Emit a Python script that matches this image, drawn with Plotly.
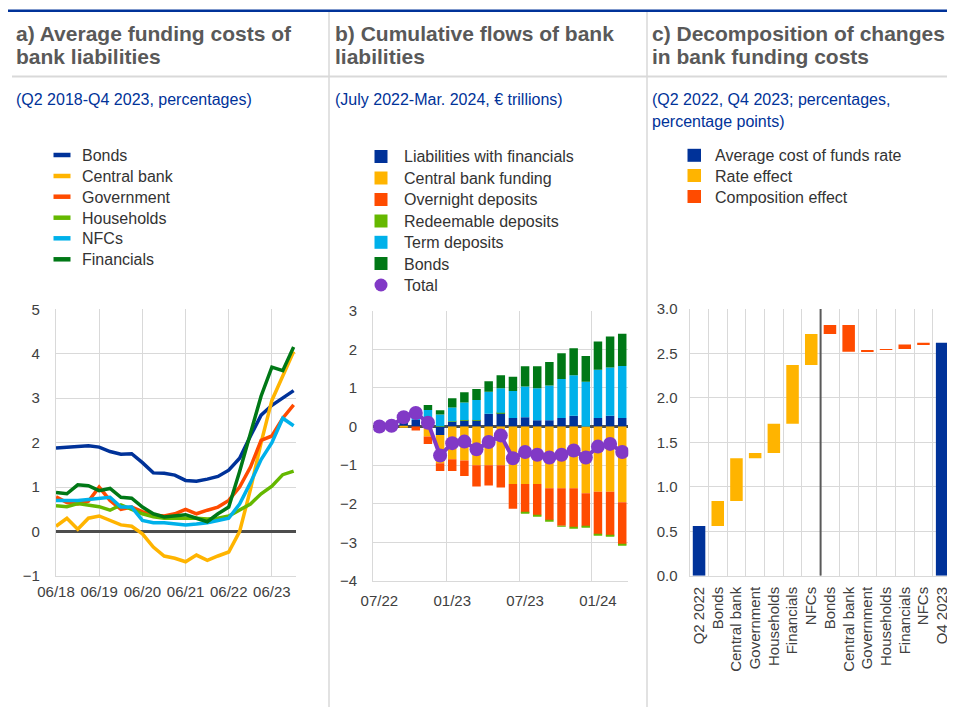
import numpy as np
import pandas as pd
import plotly.graph_objects as go

# ---------------- Panel a: average funding costs (quarterly, Q2 2018 - Q4 2023)
quarters = pd.period_range("2018Q2", "2023Q4", freq="Q").to_timestamp(how="end").normalize()
cost_bonds = [1.88, 1.90, 1.93, 1.93, 1.90, 1.80, 1.74, 1.75, 1.55, 1.32, 1.31, 1.27,
              1.15, 1.13, 1.18, 1.24, 1.38, 1.65, 2.15, 2.62, 2.84, 3.00, 3.17]
cost_central = [0.12, 0.30, 0.05, 0.30, 0.35, 0.25, 0.15, 0.12, -0.05, -0.35, -0.55, -0.60,
                -0.68, -0.53, -0.65, -0.55, -0.46, 0.00, 0.95, 2.00, 2.95, 3.50, 4.05]
cost_government = [0.78, 0.65, 0.62, 0.68, 1.00, 0.70, 0.50, 0.55, 0.45, 0.37, 0.35, 0.40,
                   0.50, 0.40, 0.48, 0.55, 0.70, 1.00, 1.45, 2.05, 2.15, 2.55, 2.85]
cost_households = [0.58, 0.56, 0.63, 0.60, 0.56, 0.48, 0.60, 0.50, 0.40, 0.33, 0.30, 0.30,
                   0.30, 0.30, 0.28, 0.30, 0.35, 0.48, 0.62, 0.85, 1.02, 1.28, 1.36]
cost_nfcs = [0.70, 0.70, 0.70, 0.72, 0.75, 0.77, 0.55, 0.55, 0.25, 0.20, 0.20, 0.17,
             0.15, 0.17, 0.20, 0.25, 0.30, 0.62, 1.10, 1.62, 2.00, 2.55, 2.38]
cost_financials = [0.88, 0.85, 1.05, 1.03, 0.92, 0.97, 0.77, 0.75, 0.55, 0.40, 0.33, 0.35,
                   0.38, 0.30, 0.22, 0.40, 0.55, 1.35, 2.20, 3.05, 3.70, 3.62, 4.15]
a_tick_dates = pd.to_datetime([f"{y}-06-30" for y in range(2018, 2024)])
a_tick_labels = ["06/18", "06/19", "06/20", "06/21", "06/22", "06/23"]
a_series_names = ["Bonds", "Central bank", "Government", "Households", "NFCs", "Financials"]

# ---------------- Panel b: cumulative flows (monthly, Jul 2022 - Mar 2024), EUR trillions
month_labels = ["07/22", "08/22", "09/22", "10/22", "11/22", "12/22", "01/23", "02/23",
                "03/23", "04/23", "05/23", "06/23", "07/23", "08/23", "09/23", "10/23",
                "11/23", "12/23", "01/24", "02/24", "03/24"]
flow_liab_fin = [0.0, 0.03, 0.15, 0.17, 0.10, -0.22, 0.13, 0.16, 0.16, 0.33, 0.35, 0.22,
                 0.24, 0.16, 0.16, 0.22, 0.28, 0.0, 0.22, 0.28, 0.22]
flow_cb = [0.0, 0.0, -0.02, 0.0, -0.26, -0.73, -0.85, -0.88, -1.0, -1.0, -1.0, -1.49,
           -1.49, -1.49, -1.6, -1.6, -1.6, -1.73, -1.69, -1.69, -1.96]
flow_overnight = [0.0, 0.0, 0.0, -0.10, -0.19, -0.20, -0.30, -0.40, -0.55, -0.53, -0.58, -0.64,
                  -0.74, -0.81, -0.82, -0.97, -1.0, -0.86, -1.10, -1.13, -1.09]
flow_redeemable = [0.0, 0.0, 0.0, 0.0, 0.0, 0.01, 0.01, 0.01, 0.01, 0.0, 0.01, 0.0,
                   -0.02, -0.02, -0.02, -0.02, -0.02, -0.02, -0.02, -0.02, -0.02]
flow_term = [0.0, 0.0, 0.05, 0.20, 0.33, 0.30, 0.35, 0.45, 0.52, 0.57, 0.63, 0.70,
             0.80, 0.83, 0.90, 1.01, 1.05, 1.16, 1.25, 1.25, 1.35]
flow_bonds = [0.0, 0.0, 0.04, 0.08, 0.13, 0.11, 0.24, 0.27, 0.28, 0.27, 0.34, 0.37,
              0.52, 0.57, 0.61, 0.67, 0.70, 0.67, 0.73, 0.80, 0.83]
flow_total = [0.0, 0.02, 0.24, 0.35, 0.10, -0.75, -0.43, -0.39, -0.59, -0.40, -0.23, -0.82,
              -0.66, -0.73, -0.80, -0.73, -0.62, -0.80, -0.52, -0.45, -0.66]
b_tick_labels = ["07/22", "01/23", "07/23", "01/24"]
b_series_names = ["Liabilities with financials", "Central bank funding", "Overnight deposits",
                  "Redeemable deposits", "Term deposits", "Bonds", "Total"]

# ---------------- Panel c: decomposition of changes in funding costs
c_categories = ["Q2 2022", "Bonds", "Central bank", "Government", "Households", "Financials",
                "NFCs", "Bonds", "Central bank", "Government", "Households", "Financials",
                "NFCs", "Q4 2023"]
avg_cost = [0.56, 2.62]
rate_effect = [0.28, 0.48, 0.06, 0.33, 0.66, 0.35]
comp_effect = [0.10, -0.30, 0.02, 0.01, 0.05, 0.02]
c_series_names = ["Average cost of funds rate", "Rate effect", "Composition effect"]

# ---------------- styling
BLUE = "#003299"
YELLOW = "#ffb400"
RED = "#ff4b00"
LGREEN = "#65b800"
CYAN = "#00b1ea"
DGREEN = "#007816"
PURPLE = "#8139c6"
GRID = "#d9d9d9"
TXT = "#404040"
FONT = "Liberation Sans, Arial, sans-serif"
# the page places the figure 8px from the window's top-left corner
OFF = 8
W, H = 955 - OFF, 713 - OFF

a_colors = [BLUE, YELLOW, RED, LGREEN, CYAN, DGREEN]
b_colors = [BLUE, YELLOW, RED, LGREEN, CYAN, DGREEN, PURPLE]
c_colors = [BLUE, YELLOW, RED]


def px(xp):
    return (xp - OFF) / W


def py(yp):
    return 1 - (yp - OFF) / H


fig = go.Figure()

# Panel a lines
a_values = [cost_bonds, cost_central, cost_government, cost_households, cost_nfcs, cost_financials]
for name, vals, col in zip(a_series_names, a_values, a_colors):
    fig.add_trace(go.Scatter(x=quarters, y=vals, name=name, mode="lines",
                             line=dict(color=col, width=3.5), xaxis="x", yaxis="y"))

# Panel b stacked bars + total
bx = np.arange(len(month_labels))
b_values = [flow_liab_fin, flow_cb, flow_overnight, flow_redeemable, flow_term, flow_bonds]
for name, vals, col in zip(b_series_names[:6], b_values, b_colors[:6]):
    fig.add_trace(go.Bar(x=bx, y=vals, name=name, marker=dict(color=col, line=dict(width=0)),
                         xaxis="x2", yaxis="y2"))
fig.add_trace(go.Scatter(x=bx, y=flow_total, mode="lines+markers", name=b_series_names[6],
                         line=dict(color=PURPLE, width=4), marker=dict(color=PURPLE, size=14),
                         xaxis="x2", yaxis="y2"))

# Panel c decomposition
cx = np.arange(len(c_categories))
fig.add_trace(go.Bar(x=[cx[0], cx[-1]], y=avg_cost, name=c_series_names[0],
                     marker=dict(color=BLUE, line=dict(width=0)), width=0.67,
                     xaxis="x3", yaxis="y3"))
fig.add_trace(go.Waterfall(x=cx[1:7], y=rate_effect, base=avg_cost[0], name=c_series_names[1],
                           measure=["relative"] * len(rate_effect), width=0.67,
                           increasing=dict(marker=dict(color=YELLOW, line=dict(width=0))),
                           decreasing=dict(marker=dict(color=YELLOW, line=dict(width=0))),
                           connector=dict(visible=False), xaxis="x3", yaxis="y3"))
fig.add_trace(go.Waterfall(x=cx[7:13], y=comp_effect, base=avg_cost[0] + sum(rate_effect),
                           name=c_series_names[2],
                           measure=["relative"] * len(comp_effect), width=0.67,
                           increasing=dict(marker=dict(color=RED, line=dict(width=0))),
                           decreasing=dict(marker=dict(color=RED, line=dict(width=0))),
                           connector=dict(visible=False), xaxis="x3", yaxis="y3"))

tickfont = dict(family=FONT, size=15, color=TXT)


def axis_common(**kw):
    d = dict(tickfont=tickfont, ticks="", automargin=False, fixedrange=True,
             showline=True, linecolor=GRID, linewidth=1.2)
    d.update(kw)
    return d


layout = dict(
    width=W, height=H, autosize=False,
    margin=dict(l=0, r=0, t=0, b=0, pad=0),
    paper_bgcolor="white", plot_bgcolor="white",
    font=dict(family=FONT, size=15, color=TXT),
    barmode="relative", bargap=0.3, waterfallmode="overlay",
    hovermode=False, showlegend=False,
    xaxis=axis_common(domain=[px(56), px(296)], anchor="y", type="date",
                      range=[quarters[0], pd.Timestamp("2024-01-20")],
                      tickmode="array", tickvals=a_tick_dates, ticktext=a_tick_labels,
                      showgrid=True, gridcolor=GRID, gridwidth=1.2, zeroline=False,
                      ticklabelstandoff=2),
    yaxis=axis_common(domain=[py(576), py(309.3)], anchor="x", range=[-1, 5], dtick=1,
                      showgrid=True, gridcolor=GRID, gridwidth=1.2,
                      zeroline=True, zerolinecolor="#4d4d4d", zerolinewidth=2.5,
                      ticklabelstandoff=12),
    xaxis2=axis_common(domain=[px(373.3), px(628.3)], anchor="y2", range=[-0.5, 20.5],
                       tickmode="array", tickvals=[0, 6, 12, 18], ticktext=b_tick_labels,
                       showgrid=False, zeroline=False,
                       minor=dict(tickmode="array", tickvals=[-0.5, 5.5, 11.5, 17.5],
                                  showgrid=True, gridcolor=GRID, gridwidth=1.2, ticks=""),
                       ticklabelstandoff=6),
    yaxis2=axis_common(domain=[py(581), py(310.7)], anchor="x2", range=[-4, 3], dtick=1,
                       showgrid=True, gridcolor=GRID, gridwidth=1.2,
                       zeroline=True, zerolinecolor="#4d4d4d", zerolinewidth=2.5,
                       ticklabelstandoff=12),
    xaxis3=axis_common(domain=[px(689.7), px(951.5)], anchor="y3", range=[-0.5, 13.5],
                       tickmode="array", tickvals=list(cx), ticktext=c_categories,
                       tickangle=-90, showgrid=False, zeroline=False,
                       minor=dict(tickmode="linear", tick0=-0.5, dtick=1, showgrid=True,
                                  gridcolor=GRID, gridwidth=1.2, ticks=""),
                       ticklabelstandoff=4),
    yaxis3=axis_common(domain=[py(575.7), py(309)], anchor="x3", range=[0, 3], dtick=0.5,
                       tickformat=".1f", showgrid=True, gridcolor=GRID, gridwidth=1.2,
                       zeroline=False, ticklabelstandoff=8),
)
fig.update_layout(**layout)

# frame lines
shapes = [
    dict(type="line", xref="paper", yref="paper", x0=px(8), x1=1, y0=py(10.7), y1=py(10.7),
         line=dict(color=BLUE, width=2.5)),
    dict(type="line", xref="paper", yref="paper", x0=px(12), x1=1, y0=py(76.5), y1=py(76.5),
         line=dict(color=GRID, width=2)),
    dict(type="line", xref="paper", yref="paper", x0=px(329), x1=px(329), y0=py(12), y1=py(707),
         line=dict(color=GRID, width=1.5)),
    dict(type="line", xref="paper", yref="paper", x0=px(647), x1=px(647), y0=py(12), y1=py(707),
         line=dict(color=GRID, width=1.5)),
    dict(type="line", xref="x3", yref="y3", x0=6.5, x1=6.5, y0=0, y1=3,
         line=dict(color="#595959", width=2)),
]

TITLE_C = "#595959"
SUB_C = BLUE
LEG_C = "#333333"
ann = []


def add_text(x, yc, text, size, color, bold=False):
    ann.append(dict(xref="paper", yref="paper", x=px(x), y=py(yc), xanchor="left",
                    yanchor="middle", showarrow=False, align="left",
                    text=f"<b>{text}</b>" if bold else text,
                    font=dict(family=FONT, size=size, color=color)))


add_text(14, 33.5, "a) Average funding costs of", 21, TITLE_C, True)
add_text(14, 57, "bank liabilities", 21, TITLE_C, True)
add_text(333, 33.5, "b) Cumulative flows of bank", 21, TITLE_C, True)
add_text(333, 57, "liabilities", 21, TITLE_C, True)
add_text(650, 33.5, "c) Decomposition of changes", 21, TITLE_C, True)
add_text(650, 57, "in bank funding costs", 21, TITLE_C, True)
add_text(14, 100, "(Q2 2018-Q4 2023, percentages)", 16, SUB_C)
add_text(333, 100, "(July 2022-Mar. 2024, € trillions)", 16, SUB_C)
add_text(650, 100, "(Q2 2022, Q4 2023; percentages,", 16, SUB_C)
add_text(650, 121.7, "percentage points)", 16, SUB_C)

# legends (key symbols + labels)
a_leg_y = [155, 176, 196.7, 217.7, 238.3, 259.3]
for name, col, yc in zip(a_series_names, a_colors, a_leg_y):
    shapes.append(dict(type="line", xref="paper", yref="paper", x0=px(53.5), x1=px(70.5),
                       y0=py(yc), y1=py(yc), line=dict(color=col, width=4.5)))
    add_text(80, yc + 0.5, name, 16, LEG_C)

b_leg_y = [156.5, 178, 199.5, 221, 242.3, 263.5, 285]
for i, (name, col, yc) in enumerate(zip(b_series_names, b_colors, b_leg_y)):
    shp = "circle" if i == 6 else "rect"
    shapes.append(dict(type=shp, xref="paper", yref="paper", x0=px(374.5), x1=px(387.5),
                       y0=py(yc - 6.5), y1=py(yc + 6.5), fillcolor=col, line=dict(width=0)))
    add_text(401.5, yc + 0.5, name, 16, LEG_C)

c_leg_y = [155.3, 175.5, 196.5]
for name, col, yc in zip(c_series_names, c_colors, c_leg_y):
    shapes.append(dict(type="rect", xref="paper", yref="paper", x0=px(687.5), x1=px(701),
                       y0=py(yc - 6.5), y1=py(yc + 6.5), fillcolor=col, line=dict(width=0)))
    add_text(713, yc + 0.5, name, 16, LEG_C)

fig.update_layout(shapes=shapes, annotations=ann)

fig.write_html("out.html", config={"displayModeBar": False})
